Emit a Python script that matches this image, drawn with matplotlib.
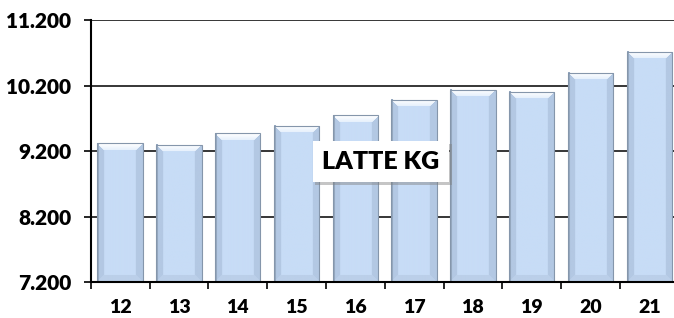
import numpy as np
import matplotlib
matplotlib.use('Agg')
import matplotlib.pyplot as plt
import matplotlib.patheffects as pe
from matplotlib.ticker import FuncFormatter, FixedLocator

# data
years = ['12', '13', '14', '15', '16', '17', '18', '19', '20', '21']
latte_kg = [9320, 9295, 9470, 9580, 9745, 9985, 10140, 10105, 10390, 10715]
y_ticks = [7200, 8200, 9200, 10200, 11200]
title = 'LATTE KG'

plt.rcParams['font.family'] = ['Lato', 'DejaVu Sans']
plt.rcParams['font.weight'] = 'bold'

fig = plt.figure(figsize=(6.74, 3.18), dpi=100)
ax = fig.add_axes([0.1346, 0.1123, 0.8724, 0.8247])

x = np.arange(len(years))
bar_w = 0.77
ax.set_xlim(-0.5, len(years) - 0.5)
ax.set_ylim(y_ticks[0], y_ticks[-1])

# grid lines behind bars
for t in y_ticks[1:]:
    ax.axhline(t, color='black', lw=1.1, zorder=1)

bars = ax.bar(x, [v - y_ticks[0] for v in latte_kg], bottom=y_ticks[0], width=bar_w,
              facecolor='none', edgecolor='#8596ab', linewidth=0.8, zorder=4)

# bevelled fill for each bar, built in pixel units
base = np.array([0xc7, 0xdc, 0xf6]) / 255
top_c = np.array([0xe4, 0xef, 0xfc]) / 255
side_c = np.array([0xb3, 0xc8, 0xe3]) / 255
bot_c = np.array([0xbb, 0xcf, 0xe9]) / 255
fig.canvas.draw()
for b in bars:
    bb = b.get_window_extent()
    w = max(int(round(bb.width)), 2)
    h = max(int(round(bb.height)), 2)
    bev = 7
    img = np.tile(base, (h, w, 1))
    jj, ii = np.meshgrid(np.arange(w), np.arange(h))
    dl, dr, dt, db = jj, w - 1 - jj, ii, h - 1 - ii
    side = np.minimum(dl, dr)
    m_side = side < bev
    img[m_side] = side_c
    m_bot = (db < bev) & (db <= side)
    img[m_bot] = bot_c
    m_top = (dt < bev) & (dt <= side)
    # light gradient on the top bevel
    frac = (dt / bev)[..., None]
    grad = np.array([1.0, 1.0, 1.0]) * (1 - frac) + top_c * frac
    img[m_top] = grad[m_top]
    img[dl < 2] = np.array([0x95, 0xa8, 0xc0]) / 255
    x0 = b.get_x()
    ax.imshow(img, extent=(x0, x0 + b.get_width(), b.get_y(), b.get_y() + b.get_height()),
              aspect='auto', interpolation='bilinear', zorder=3)

ax.set_xlim(-0.5, len(years) - 0.5)
ax.set_ylim(y_ticks[0], y_ticks[-1])

# axes styling
for s in ['top', 'right']:
    ax.spines[s].set_visible(False)
ax.spines['left'].set_linewidth(1.5)
ax.spines['bottom'].set_linewidth(1.5)
ax.spines['left'].set_zorder(5)
ax.spines['bottom'].set_zorder(5)

ax.yaxis.set_major_locator(FixedLocator(y_ticks))
ax.yaxis.set_major_formatter(FuncFormatter(lambda v, p: f'{v:,.0f}'.replace(',', '.')))
ax.tick_params(axis='y', length=5, width=1.2, pad=9, labelsize=15, colors='black')

ax.set_xticks(x)
ax.set_xticklabels(years)
ax.set_xticks(np.arange(len(years) + 1) - 0.5, minor=True)
ax.tick_params(axis='x', which='major', length=0, pad=12, labelsize=14)
ax.tick_params(axis='x', which='minor', length=5, width=1.2, direction='out')

for lbl in ax.get_xticklabels() + ax.get_yticklabels():
    lbl.set_fontweight('heavy')

t = fig.text(0.565, 0.491, title, ha='center', va='center', fontsize=18,
             fontweight='heavy', zorder=10,
             bbox=dict(boxstyle='square,pad=0.38', facecolor='white', edgecolor='none'))
t.get_bbox_patch().set_path_effects([
    pe.withSimplePatchShadow(offset=(2, -2), shadow_rgbFace='gray', alpha=0.45),
    pe.Normal()])

fig.savefig('out.png', dpi=100)
